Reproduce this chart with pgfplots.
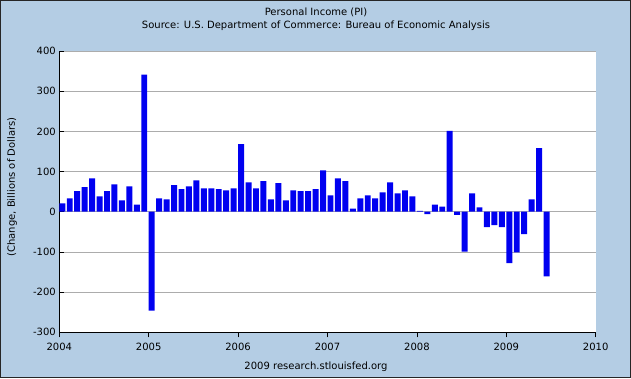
\documentclass[border=0pt]{standalone}
\usepackage{fontspec}
\setmainfont{DejaVu Sans}
\usepackage{pgfplots}
\pgfplotsset{compat=1.18}
\usepackage{pgfplotstable}
\definecolor{bgblue}{RGB}{180,205,228}
\definecolor{barblue}{RGB}{0,0,240}
\definecolor{gridgray}{RGB}{172,172,172}

\pgfplotstableread{
m v
0 21
1 33
2 51
3 61
4 83
5 38
6 51
7 68
8 28
9 63
10 18
11 341
12 -246
13 33
14 31
15 66
16 56
17 63
18 78
19 58
20 58
21 56
22 53
23 58
24 168
25 73
26 58
27 76
28 31
29 71
30 28
31 53
32 51
33 51
34 56
35 103
36 41
37 83
38 76
39 8
40 33
41 41
42 33
43 48
44 73
45 46
46 53
47 38
48 2
49 -6
50 18
51 13
52 201
53 -8
54 -99
55 46
56 11
57 -38
58 -33
59 -38
60 -128
61 -101
62 -56
63 31
64 158
65 -161
}\pidata

\begin{document}
\begin{tikzpicture}
\useasboundingbox (0pt,0pt) rectangle (631pt,378pt);
\fill[bgblue] (0pt,0pt) rectangle (631pt,378pt);
\draw[black!85, line width=1pt] (0.5pt,0.5pt) rectangle (630.5pt,377.5pt);
\begin{scope}[every node/.style={font=\fontsize{10}{12}\selectfont, inner sep=0pt}]
\node at (316pt,366pt) {Personal Income (PI)};
\node at (316pt,352pt) {Source: U.S. Department of Commerce: Bureau of Economic Analysis};
\node at (316pt,11pt) {2009 research.stlouisfed.org};
\node[rotate=90] at (12pt,191pt) {(Change, Billions of Dollars)};
\end{scope}
\begin{axis}[
  at={(59.3pt,45.7pt)}, anchor=south west,
  scale only axis, width=536.4pt, height=281.3pt,
  xmin=0, xmax=72, ymin=-300, ymax=400,
  axis lines=left,
  axis line style={-, black, line width=1.2pt},
  axis background/.style={fill=white},
  xtick={0,12,24,36,48,60,72},
  xticklabels={2004,2005,2006,2007,2008,2009,2010},
  ytick={-300,-200,-100,0,100,200,300,400},
  yticklabels={-300,-200,-100,0,100,200,300,400},
  tick align=inside,
  major tick length=5pt,
  tick style={black, line width=0.8pt},
  ymajorgrids,
  grid style={gridgray, line width=0.8pt},
  tick label style={font=\fontsize{10}{12}\selectfont},
  xticklabel style={yshift=-2pt},
  /pgf/number format/assume math mode=true,
  ybar, bar width=0.8,
  clip=false,
]
\addplot[fill=barblue, draw=none] table[x expr=\thisrow{m}+0.4, y=v] {\pidata};
\end{axis}
\end{tikzpicture}
\end{document}
